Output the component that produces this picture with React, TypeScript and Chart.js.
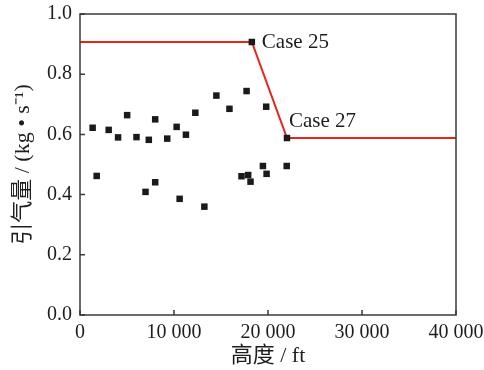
import React, { useEffect, useRef } from "react";
import { Chart, registerables } from "chart.js";

Chart.register(...registerables);

// Scatter points (altitude in ft, bleed air flow in kg/s)
const scatterX = [1345, 1775, 3050, 4050, 5015, 6010, 6970, 7320, 8000, 8000, 9280, 10280, 10600, 11270, 12270, 13230, 14510, 15900, 17720, 19810, 17180, 17890, 18140, 19460, 19850, 21990, 18280, 22020];
const scatterY = [0.622, 0.462, 0.615, 0.590, 0.664, 0.591, 0.409, 0.582, 0.650, 0.441, 0.586, 0.625, 0.386, 0.599, 0.672, 0.360, 0.729, 0.685, 0.744, 0.692, 0.461, 0.465, 0.443, 0.495, 0.469, 0.495, 0.907, 0.588];

// Red limit line
const lineX = [0, 18280, 22020, 40000];
const lineY = [0.907, 0.907, 0.588, 0.588];

// Point labels
const labelText = ["Case 25", "Case 27"];
const labelX = [18280, 22020];
const labelY = [0.907, 0.588];

const xTickValues = [0, 10000, 20000, 30000, 40000];
const yTickValues = [0, 0.2, 0.4, 0.6, 0.8, 1.0];

const FONT = "'Liberation Serif', 'Times New Roman', 'Noto Sans CJK SC', serif";
const TEXT = "#1e1e1e";
const AXIS = "#3a3a3a";

const fmtThousands = (v: number) => {
  const s = String(Math.round(v));
  return s.length > 3 ? s.slice(0, s.length - 3) + " " + s.slice(s.length - 3) : s;
};

const framePlugin = {
  id: "frame",
  afterDatasetsDraw(chart: any) {
    const { ctx, chartArea } = chart;
    const xs = chart.scales.x;
    const ys = chart.scales.y;
    ctx.save();
    ctx.strokeStyle = AXIS;
    ctx.lineWidth = 1.5;
    ctx.strokeRect(chartArea.left, chartArea.top, chartArea.right - chartArea.left, chartArea.bottom - chartArea.top);
    ctx.beginPath();
    xTickValues.forEach((v) => {
      const px = xs.getPixelForValue(v);
      ctx.moveTo(px, chartArea.bottom);
      ctx.lineTo(px, chartArea.bottom - 5);
    });
    yTickValues.forEach((v) => {
      const py = ys.getPixelForValue(v);
      ctx.moveTo(chartArea.left, py);
      ctx.lineTo(chartArea.left + 5, py);
    });
    ctx.stroke();

    ctx.fillStyle = TEXT;
    ctx.font = `21px ${FONT}`;
    ctx.textBaseline = "middle";
    ctx.textAlign = "left";
    labelText.forEach((t, i) => {
      const px = xs.getPixelForValue(labelX[i]);
      const py = ys.getPixelForValue(labelY[i]);
      if (i === 0) ctx.fillText(t, px + 10, py);
      else ctx.fillText(t, px + 2, py - 17);
    });
    ctx.restore();
  },
};

export default function App() {
  const ref = useRef<HTMLCanvasElement>(null);
  useEffect(() => {
    document.body.style.margin = "0";
    const chart = new Chart(ref.current as HTMLCanvasElement, {
      type: "scatter",
      data: {
        datasets: [
          {
            type: "scatter",
            data: scatterX.map((x, i) => ({ x, y: scatterY[i] })),
            pointStyle: "rect",
            pointRadius: 4.6,
            backgroundColor: "#1a1a1a",
            borderWidth: 0,
          } as any,
          {
            type: "line",
            data: lineX.map((x, i) => ({ x, y: lineY[i] })),
            borderColor: "#e8231b",
            borderWidth: 2,
            pointRadius: 0,
            fill: false,
            tension: 0,
          } as any,
        ],
      },
      options: {
        animation: false,
        responsive: false,
        maintainAspectRatio: false,
        layout: { padding: { top: 14, right: 28, left: 0, bottom: 0 } },
        plugins: { legend: { display: false }, tooltip: { enabled: false } },
        scales: {
          x: {
            type: "linear",
            min: 0,
            max: 40000,
            afterBuildTicks: (s: any) => {
              s.ticks = xTickValues.map((value) => ({ value }));
            },
            ticks: {
              callback: (v: any) => fmtThousands(Number(v)),
              font: { family: FONT, size: 20 },
              color: TEXT,
              padding: 6,
              maxRotation: 0,
              autoSkip: false,
            },
            grid: { display: false, drawTicks: false },
            border: { display: false },
            title: {
              display: true,
              text: "高度 / ft",
              font: { family: FONT, size: 22 },
              color: TEXT,
              padding: { top: 0, bottom: 1 },
            },
            afterFit: (s: any) => {
              s.height = 55;
              s.paddingLeft = 0;
              s.paddingRight = 0;
            },
          },
          y: {
            type: "linear",
            min: 0,
            max: 1,
            afterBuildTicks: (s: any) => {
              s.ticks = yTickValues.map((value) => ({ value }));
            },
            ticks: {
              callback: (v: any) => Number(v).toFixed(1),
              font: { family: FONT, size: 20 },
              color: TEXT,
              padding: 8,
              autoSkip: false,
            },
            grid: { display: false, drawTicks: false },
            border: { display: false },
            title: {
              display: true,
              text: "引气量 / (kg • s⁻¹)",
              font: { family: FONT, size: 22 },
              color: TEXT,
              padding: { top: 10, bottom: 4 },
            },
            afterFit: (s: any) => {
              s.width = 80;
              s.paddingTop = 0;
              s.paddingBottom = 0;
            },
          },
        },
      } as any,
      plugins: [framePlugin],
    });
    return () => chart.destroy();
  }, []);
  return (
    <div style={{ width: 484, height: 370 }}>
      <canvas ref={ref} width={484} height={370} style={{ display: "block" }} />
    </div>
  );
}
